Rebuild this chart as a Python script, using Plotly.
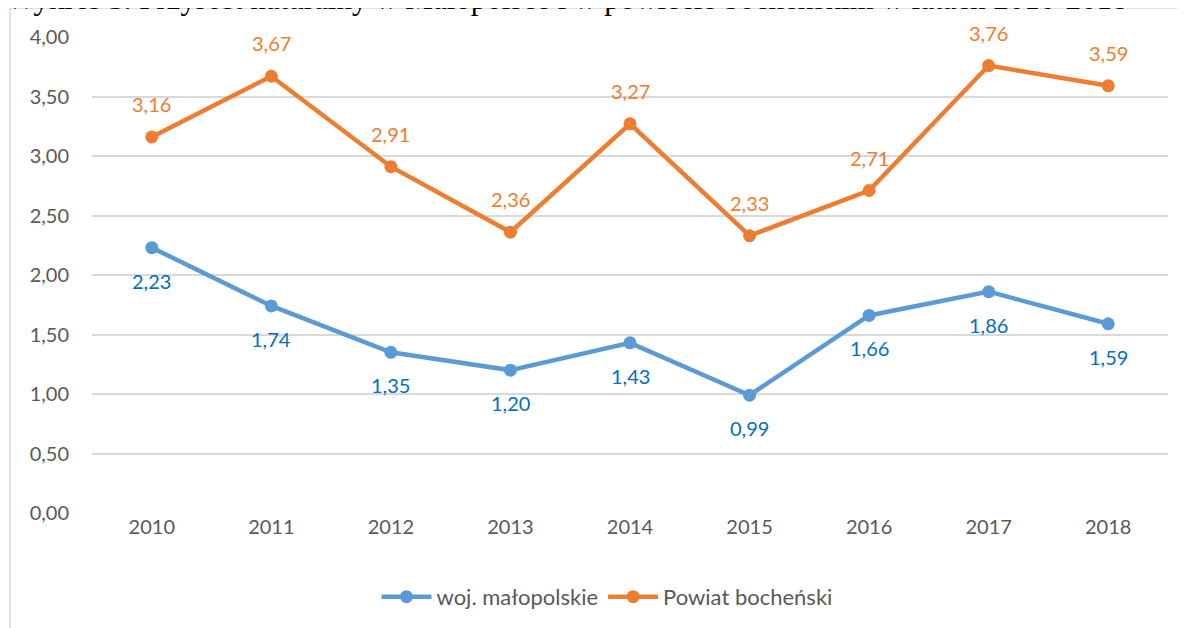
import plotly.graph_objects as go

years = [2010, 2011, 2012, 2013, 2014, 2015, 2016, 2017, 2018]
year_labels = ["2010", "2011", "2012", "2013", "2014", "2015", "2016", "2017", "2018"]
malopolskie = [2.23, 1.74, 1.35, 1.20, 1.43, 0.99, 1.66, 1.86, 1.59]
bochenski = [3.16, 3.67, 2.91, 2.36, 3.27, 2.33, 2.71, 3.76, 3.59]
y_ticks = [0, 0.5, 1.0, 1.5, 2.0, 2.5, 3.0, 3.5, 4.0]
y_labels = ["0,00", "0,50", "1,00", "1,50", "2,00", "2,50", "3,00", "3,50", "4,00"]
title_text = "Wykres 3. Przyrost naturalny w Małopolsce i w powiecie bocheńskim w latach 2010-2018"

BLUE = "#5B9BD5"
BLUE_TXT = "#0070C0"
ORANGE = "#ED7D31"
FONT = "Lato"

def fmt(v):
    return f"{v:.2f}".replace(".", ",")

fig = go.Figure()
fig.add_trace(go.Scatter(x=years, y=malopolskie, mode="lines+markers", name="woj. małopolskie",
                         line=dict(color=BLUE, width=4.5), marker=dict(size=13, color=BLUE)))
fig.add_trace(go.Scatter(x=years, y=bochenski, mode="lines+markers", name="Powiat bocheński",
                         line=dict(color=ORANGE, width=4.5), marker=dict(size=13, color=ORANGE)))

ann = []
for x, v in zip(years, malopolskie):
    ann.append(dict(x=x, y=v, text=fmt(v), showarrow=False, yshift=-33,
                    font=dict(family=FONT, size=20, color=BLUE_TXT)))
for x, v in zip(years, bochenski):
    ann.append(dict(x=x, y=v, text=fmt(v), showarrow=False, yshift=33,
                    font=dict(family=FONT, size=20, color=ORANGE)))
ann.append(dict(xref="paper", yref="paper", x=(567 - 92) / 1076, y=(513 - 18) / 476,
                xanchor="center", yanchor="bottom", text=title_text, showarrow=False,
                font=dict(family="Liberation Serif", size=31, color="#000000")))

fig.update_layout(
    width=1185, height=628,
    margin=dict(l=84, r=25, t=29, b=123, autoexpand=False),
    paper_bgcolor="white", plot_bgcolor="white",
    font=dict(family=FONT, size=20, color="#595959"),
    showlegend=True,
    legend=dict(orientation="h", x=(607 - 92) / 1076, xanchor="center", y=-0.132, yanchor="top",
                font=dict(family=FONT, size=22, color="#595959"), itemwidth=50),
    annotations=ann,
    shapes=[dict(type="rect", xref="paper", yref="paper",
                 x0=(10 - 92) / 1076, x1=(1200 - 92) / 1076,
                 y0=(513 - 650) / 476, y1=(513 - 8) / 476,
                 line=dict(color="#D9D9D9", width=1.5), layer="below")],
)
fig.update_xaxes(range=[2009.5, 2018.5], tickvals=years, ticktext=year_labels,
                 showgrid=False, showline=False, ticks="", zeroline=False,
                 tickfont=dict(family=FONT, size=20, color="#595959"))
fig.update_yaxes(range=[0, 4], tickvals=y_ticks, ticktext=y_labels, showgrid=True,
                 gridcolor="#D9D9D9", gridwidth=1.5, zeroline=False, showline=False, ticks="",
                 ticklabelstandoff=22,
                 tickfont=dict(family=FONT, size=20, color="#595959"))

fig.write_html("out.html")
